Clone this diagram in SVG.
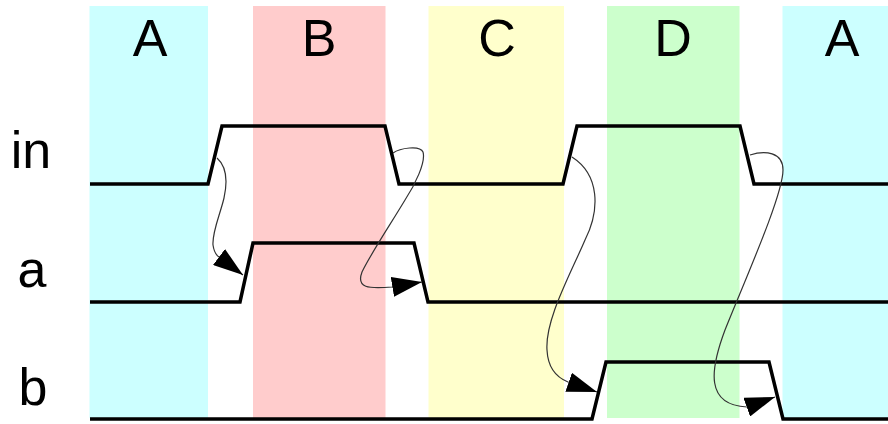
<svg xmlns="http://www.w3.org/2000/svg" width="888" height="424" viewBox="0 0 888 424">
  <style>
    .lbl { font-family: "Liberation Sans", Arial, sans-serif; font-size: 52px; fill: #000; text-anchor: middle; }
    .wave { fill: none; stroke: #000; stroke-width: 3.5; stroke-linejoin: miter; }
    .conn { fill: none; stroke: #333; stroke-width: 1.2; marker-end: url(#arrow); }
  </style>
  <defs>
    <marker id="arrow" markerUnits="userSpaceOnUse" viewBox="0 0 30 20" markerWidth="30" markerHeight="20" refX="30" refY="10" orient="auto">
      <path d="M0,0 L30,10 L0,20 z" fill="#000"/>
    </marker>
  </defs>
  <rect width="888" height="424" fill="#fff"/>
  <g id="bands">
    <rect id="band-A1" x="89.5" y="6" width="118.5" height="412" fill="#ccffff"/>
    <rect id="band-B" x="253" y="6" width="132.5" height="412" fill="#ffcccc"/>
    <rect id="band-C" x="428.5" y="6" width="135.5" height="412" fill="#ffffcc"/>
    <rect id="band-D" x="607" y="6" width="132.5" height="412" fill="#ccffcc"/>
    <rect id="band-A2" x="782.5" y="6" width="105.5" height="412" fill="#ccffff"/>
  </g>
  <g id="state-labels">
    <text class="lbl" x="150" y="56">A</text>
    <text class="lbl" x="319" y="56">B</text>
    <text class="lbl" x="497" y="56">C</text>
    <text class="lbl" x="673" y="56">D</text>
    <text class="lbl" x="842" y="56">A</text>
  </g>
  <g id="signal-labels">
    <text class="lbl" x="31" y="168">in</text>
    <text class="lbl" x="32" y="287">a</text>
    <text class="lbl" x="33" y="405">b</text>
  </g>
  <g id="waveforms">
    <polyline id="wave-in" class="wave" points="90,184 208,184 222,126 385,126 399,184 563,184 577,126 740,126 754,184 888,184"/>
    <polyline id="wave-a" class="wave" points="90,302 240,302 253,243 414,243 428,302 888,302"/>
    <polyline id="wave-b" class="wave" points="90,419 592,419 606,362 769,362 783,419 888,419"/>
  </g>
  <g id="connectors">
    <path class="conn" d="M217,158 C 226,166 228,180 224,198 C 220,215 212,232 213,245 C 214,252 216,255 219,257 L 243,275"/>
    <path class="conn" d="M393,153 C 400,148 420,145 423,152 C 426,162 415,185 405,200 C 390,225 370,255 362,272 C 356,288 368,289 392,287 L 422,282"/>
    <path class="conn" d="M572,157 C 600,175 600,210 585,240 C 570,275 545,320 547,350 C 548,370 558,378 568,382 L 597,392"/>
    <path class="conn" d="M750,155 C 765,150 783,152 783,170 C 783,195 745,280 725,330 C 710,370 705,405 747,407 L 775,397"/>
  </g>
</svg>
